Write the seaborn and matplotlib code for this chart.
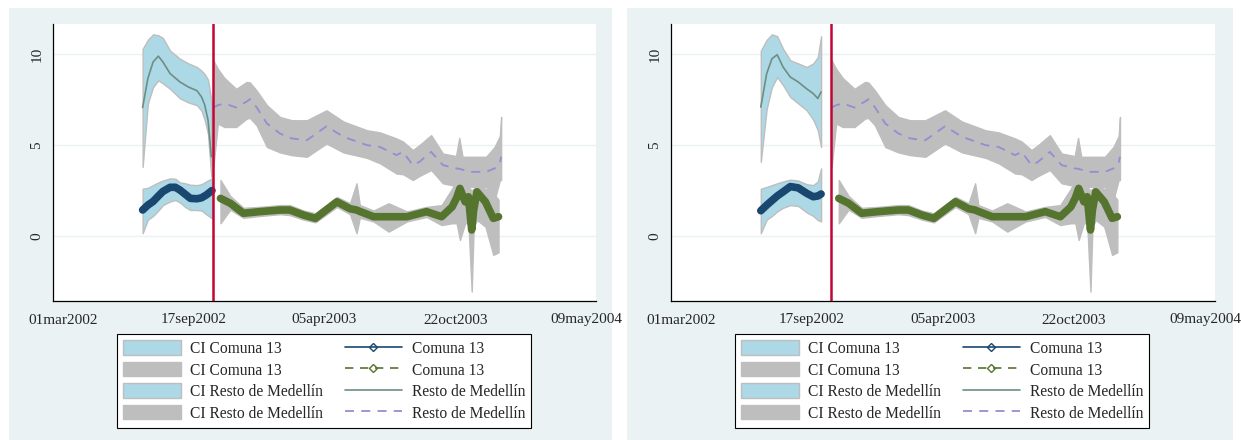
import matplotlib
matplotlib.use("Agg")
import matplotlib.pyplot as plt
from matplotlib.lines import Line2D
from matplotlib.patches import Patch, Rectangle
import pandas as pd
import seaborn as sns

# ---- data ----
# left panel, before the operation
pre_dates_l = ["2002-07-01", "2002-07-09", "2002-07-17", "2002-07-25", "2002-08-01", "2002-08-12",
               "2002-08-27", "2002-09-09", "2002-09-22", "2002-09-29", "2002-10-04", "2002-10-09", "2002-10-14"]
resto_pre_l = [7.07, 8.67, 9.58, 9.9, 9.58, 8.94, 8.48, 8.2, 8.0, 7.66, 7.2, 6.37, 4.36]
resto_pre_hi_l = [10.3, 10.8, 11.1, 11.05, 10.9, 10.2, 9.76, 9.5, 9.3, 9.1, 8.9, 8.6, 7.47]
resto_pre_lo_l = [3.8, 7.3, 8.2, 8.57, 8.4, 8.1, 7.58, 7.35, 7.2, 6.9, 6.37, 5.6, 3.26]

com_dates_l = ["2002-07-01", "2002-07-09", "2002-07-17", "2002-07-25", "2002-08-01", "2002-08-12", "2002-08-20",
               "2002-08-27", "2002-09-04", "2002-09-12", "2002-09-22", "2002-09-29", "2002-10-06", "2002-10-15"]
com_pre_l = [1.43, 1.7, 1.9, 2.2, 2.45, 2.68, 2.68, 2.53, 2.3, 2.07, 2.05, 2.1, 2.25, 2.5]
com_pre_hi_l = [2.6, 2.65, 2.8, 2.95, 3.05, 3.17, 3.15, 2.95, 2.9, 2.82, 2.8, 2.85, 3.0, 3.17]
com_pre_lo_l = [0.15, 0.9, 1.1, 1.4, 1.7, 1.9, 1.98, 1.85, 1.6, 1.43, 1.43, 1.4, 1.2, 0.97]

# right panel, before the operation (window ends earlier)
pre_dates_r = ["2002-07-01", "2002-07-10", "2002-07-18", "2002-07-26", "2002-08-04", "2002-08-15",
               "2002-08-27", "2002-09-09", "2002-09-19", "2002-09-26", "2002-10-01"]
resto_pre_r = [7.1, 8.94, 9.76, 9.98, 9.3, 8.75, 8.48, 8.1, 7.84, 7.57, 7.93]
resto_pre_hi_r = [10.2, 10.8, 11.1, 11.0, 10.3, 9.67, 9.5, 9.3, 9.5, 9.85, 11.0]
resto_pre_lo_r = [4.08, 7.0, 8.2, 8.75, 8.3, 7.65, 7.3, 6.92, 6.4, 5.82, 4.9]
com_pre_r = [1.39, 1.7, 1.95, 2.2, 2.43, 2.72, 2.65, 2.35, 2.16, 2.2, 2.31]
com_pre_hi_r = [2.6, 2.7, 2.8, 2.9, 3.0, 3.1, 3.05, 2.85, 2.8, 3.0, 3.72]
com_pre_lo_r = [0.15, 0.9, 1.1, 1.35, 1.55, 1.7, 1.65, 1.3, 1.1, 0.88, 0.8]

# after the operation (both panels)
post_dates_resto = ["2002-10-17", "2002-10-24", "2002-11-03", "2002-11-21", "2002-12-07", "2002-12-12",
                    "2002-12-22", "2003-01-07", "2003-01-27", "2003-02-14", "2003-03-09", "2003-04-08",
                    "2003-05-04", "2003-06-09", "2003-06-29", "2003-07-24", "2003-08-03", "2003-08-18",
                    "2003-08-28", "2003-09-15", "2003-10-03", "2003-10-23", "2003-10-28", "2003-11-02",
                    "2003-11-13", "2003-12-08", "2003-12-21", "2003-12-29", "2003-12-31"]
resto_post = [7.07, 7.2, 7.3, 7.07, 7.4, 7.53, 7.1, 6.19, 5.64, 5.37, 5.27, 6.04, 5.46, 5.0, 4.9,
              4.45, 4.63, 3.9, 4.08, 4.63, 3.9, 3.72, 3.7, 3.65, 3.53, 3.53, 3.72, 4.0, 4.36]
resto_post_hi = [9.67, 9.2, 8.7, 8.1, 8.48, 8.45, 8.02, 7.2, 6.55, 6.37, 6.37, 6.92, 6.3, 5.82, 5.7,
                 5.37, 5.2, 4.73, 5.0, 5.55, 4.54, 4.4, 5.4, 4.36, 4.36, 4.36, 4.9, 5.5, 6.55]
resto_post_lo = [3.8, 6.19, 6.0, 6.0, 6.46, 6.5, 6.1, 4.9, 4.6, 4.45, 4.36, 5.09, 4.6, 4.3, 4.0,
                 3.44, 3.4, 3.08, 3.3, 3.63, 2.9, 2.75, 2.71, 2.71, 2.71, 2.71, 1.98, 3.08, 3.08]

post_dates_com = ["2002-10-28", "2002-11-12", "2002-12-02", "2002-12-27", "2003-01-27", "2003-02-11",
                  "2003-03-04", "2003-03-22", "2003-04-24", "2003-05-14", "2003-05-24", "2003-05-29",
                  "2003-06-19", "2003-07-12", "2003-08-09", "2003-09-08", "2003-10-01", "2003-10-17",
                  "2003-10-24", "2003-10-29", "2003-11-06", "2003-11-11", "2003-11-16", "2003-11-19",
                  "2003-11-24", "2003-12-07", "2003-12-19", "2003-12-27"]
com_post = [2.07, 1.8, 1.25, 1.34, 1.43, 1.43, 1.15, 0.97, 1.88, 1.5, 1.43, 1.35, 1.06, 1.06,
            1.06, 1.34, 1.06, 1.6, 2.1, 2.62, 1.88, 2.16, 0.33, 1.43, 2.43, 1.88, 0.97, 1.06]
com_post_hi = [3.08, 2.2, 1.55, 1.6, 1.7, 1.7, 1.4, 1.25, 2.15, 1.8, 2.9, 1.7, 1.4, 1.8,
               1.35, 1.6, 1.7, 2.6, 3.08, 3.08, 2.8, 2.7, 2.5, 2.6, 2.75, 2.6, 2.35, 2.0]
com_post_lo = [0.7, 1.45, 1.0, 1.1, 1.2, 1.15, 0.9, 0.75, 1.6, 1.2, 0.15, 1.0, 0.8, 0.24,
               0.8, 1.05, 0.6, 0.7, 0.7, -0.22, 0.7, 0.7, -3.06, 0.5, 0.88, 0.51, -1.04, -0.9]

operation_date = "2002-10-16"
tick_dates = ["2002-03-01", "2002-09-17", "2003-04-05", "2003-10-22", "2004-05-09"]
tick_labels = ["01mar2002", "17sep2002", "05apr2003", "22oct2003", "09may2004"]

# ---- style ----
BG = "#eaf2f3"
LIGHTBLUE = "#add8e6"
GRAY = "#bebebe"
NAVY = "#1a476f"
FOREST = "#55752f"
TEAL = "#6e8e84"
LAVENDER = "#938dd2"
CRANBERRY = "#c10534"

sns.set_style("white")
plt.rcParams["font.family"] = ["Liberation Serif", "DejaVu Serif"]

W, H = 1241, 440
fig = plt.figure(figsize=(W / 100, H / 100), dpi=100)
fig.patch.set_facecolor("white")
for x0, w in [(9, 603), (627, 606)]:
    fig.patches.append(Rectangle((x0 / W, 0), w / W, 432 / H, transform=fig.transFigure,
                                 facecolor=BG, edgecolor="none", zorder=-5))


def band(ax, dates, lo, hi, color):
    d = pd.to_datetime(dates)
    ax.fill_between(d, lo, hi, facecolor=color, edgecolor=GRAY, linewidth=1.0, zorder=2)


def draw_panel(ax, pre_d, r_pre, r_hi, r_lo, c_pre_d, c_pre, c_hi, c_lo):
    band(ax, pre_d, r_lo, r_hi, LIGHTBLUE)
    band(ax, c_pre_d, c_lo, c_hi, LIGHTBLUE)
    band(ax, post_dates_resto, resto_post_lo, resto_post_hi, GRAY)
    band(ax, post_dates_com, com_post_lo, com_post_hi, GRAY)

    sns.lineplot(x=pd.to_datetime(pre_d), y=r_pre, ax=ax, color=TEAL, lw=1.2, zorder=3)
    sns.lineplot(x=pd.to_datetime(post_dates_resto), y=resto_post, ax=ax, color=LAVENDER,
                 lw=1.3, zorder=3)
    ax.lines[-1].set_dashes((5, 4))
    sns.lineplot(x=pd.to_datetime(c_pre_d), y=c_pre, ax=ax, color=NAVY, lw=5.5,
                 solid_joinstyle="round", solid_capstyle="round", zorder=4)
    sns.lineplot(x=pd.to_datetime(post_dates_com), y=com_post, ax=ax, color=FOREST, lw=5.5,
                 solid_joinstyle="round", solid_capstyle="round", zorder=4)

    ax.axvline(pd.Timestamp(operation_date), color=CRANBERRY, lw=1.8, zorder=5)

    ax.set_xlim(pd.Timestamp("2002-02-14"), pd.Timestamp("2004-05-24"))
    ax.set_ylim(-3.58, 11.67)
    ax.set_xticks(pd.to_datetime(tick_dates))
    ax.set_xticklabels(tick_labels, fontsize=11)
    ax.set_yticks([0, 5, 10])
    ax.set_yticklabels(["0", "5", "10"], rotation=90, va="center", fontsize=11)
    ax.tick_params(axis="both", direction="out", length=4, width=0.8, color="#333333", pad=3)
    ax.tick_params(axis="x", color="#777777", pad=5)
    ax.yaxis.grid(True, color=BG, lw=1.0)
    ax.xaxis.grid(False)
    ax.set_axisbelow(True)
    for s in ["top", "right"]:
        ax.spines[s].set_visible(False)
    for s in ["left", "bottom"]:
        ax.spines[s].set_color("black")
        ax.spines[s].set_linewidth(0.9)
    ax.set_xlabel("")
    ax.set_ylabel("")
    ax.set_facecolor("white")


ax1 = fig.add_axes([53 / W, 139 / H, 543 / W, 277 / H])
ax2 = fig.add_axes([671 / W, 139 / H, 544 / W, 277 / H])
draw_panel(ax1, pre_dates_l, resto_pre_l, resto_pre_hi_l, resto_pre_lo_l,
           com_dates_l, com_pre_l, com_pre_hi_l, com_pre_lo_l)
draw_panel(ax2, pre_dates_r, resto_pre_r, resto_pre_hi_r, resto_pre_lo_r,
           pre_dates_r, com_pre_r, com_pre_hi_r, com_pre_lo_r)

handles = [
    Patch(facecolor=LIGHTBLUE, edgecolor=GRAY),
    Patch(facecolor=GRAY, edgecolor=GRAY),
    Patch(facecolor=LIGHTBLUE, edgecolor=GRAY),
    Patch(facecolor=GRAY, edgecolor=GRAY),
    Line2D([], [], color=NAVY, lw=1.2, marker="D", markersize=4, markerfacecolor="none"),
    Line2D([], [], color=FOREST, lw=1.2, ls=(0, (5, 4)), marker="D", markersize=4, markerfacecolor="none"),
    Line2D([], [], color=TEAL, lw=1.2),
    Line2D([], [], color=LAVENDER, lw=1.3, ls=(0, (5, 4))),
]
labels = ["CI Comuna 13", "CI Comuna 13", "CI Resto de Medellín", "CI Resto de Medellín",
          "Comuna 13", "Comuna 13", "Resto de Medellín", "Resto de Medellín"]

for cx in [324, 942]:
    leg = fig.legend(handles, labels, loc="center", bbox_to_anchor=(cx / W, (H - 381) / H),
                     ncol=2, fontsize=11.2, frameon=True, fancybox=False, edgecolor="black",
                     framealpha=1, handlelength=3.7, handleheight=1.05, labelspacing=0.32,
                     columnspacing=1.4, handletextpad=0.6, borderpad=0.4)
    leg.get_frame().set_linewidth(0.8)

fig.savefig("out.png", dpi=100)
